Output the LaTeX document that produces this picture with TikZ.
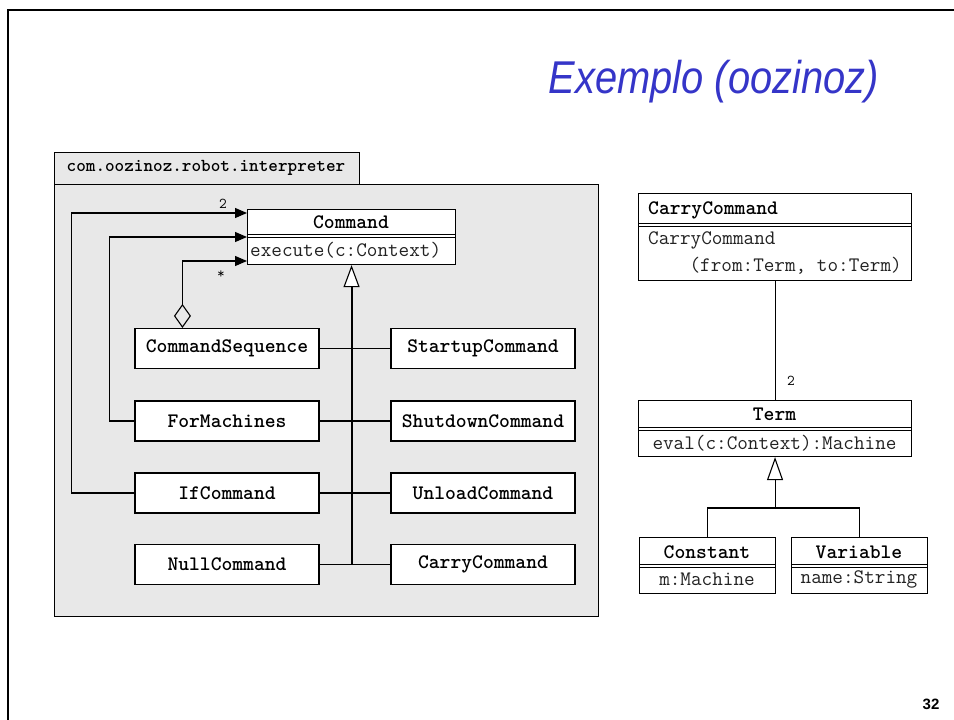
\documentclass[tikz,border=0pt]{standalone}
\usepackage{fontspec}
\usepackage{graphicx}
\setmainfont{Liberation Sans}
\setsansfont{Liberation Sans}
\usetikzlibrary{arrows.meta,calc}
\definecolor{pkgfill}{HTML}{E8E8E8}
\definecolor{titleblue}{HTML}{3535C8}
\definecolor{optext}{HTML}{222222}
\tikzset{
  frameline/.style={line width=2.6pt},
  pkgbox/.style={draw, fill=pkgfill, line width=1.1pt, anchor=north west, inner sep=0pt},
  clsbox/.style={draw, fill=white, line width=1.1pt, anchor=north west, inner sep=0pt},
  sbox/.style={draw, fill=white, line width=1.1pt, minimum width=184pt, minimum height=40pt, inner sep=0pt,
    font=\ttfamily\bfseries\fontsize{20.6}{22}\selectfont},
  clsname/.style={inner sep=0pt, font=\ttfamily\bfseries\fontsize{20.6}{22}\selectfont},
  clsop/.style={inner sep=0pt, text=optext, font=\ttfamily\fontsize{20.6}{22}\selectfont},
  mult/.style={inner sep=0pt, font=\ttfamily\fontsize{15}{16}\selectfont},
  conn/.style={line width=1.1pt},
  assoc/.style={conn, -{Triangle[length=12pt,width=10pt]}},
  aggr/.style={conn, {Diamond[open,length=24pt,width=17pt]}-{Triangle[length=12pt,width=10pt]}},
  gen/.style={line width=2pt, -{Triangle[open,length=22pt,width=16pt,fill=white,line width=1.1pt]}},
  gen2/.style={conn, -{Triangle[open,length=23pt,width=16pt,fill=white,line width=1.1pt]}},
}
\begin{document}
\begin{tikzpicture}[x=1pt,y=-1pt]
\useasboundingbox (0,0) rectangle (954,720);
% slide frame
\draw[frameline] (8,720) -- (8,10) -- (954,10);
% title
\node[anchor=base east, text=titleblue, inner sep=0pt] (title) at (879,93)
  {\resizebox{330pt}{\height}{\fontsize{46}{50}\selectfont\itshape Exemplo (oozinoz)}};
% page number
\node[inner sep=0pt, font=\sffamily\bfseries\fontsize{15}{15}\selectfont] (page) at (931,704) {32};

% package
\node[pkgbox, minimum width=305pt, minimum height=32pt] (tab) at (54,152) {};
\node[inner sep=0pt, font=\ttfamily\bfseries\fontsize{18.3}{20}\selectfont] (tabtext) at (206,168) {com.oozinoz.robot.interpreter};
\node[pkgbox, minimum width=544pt, minimum height=432pt] (pkg) at (54,184) {};

% Command class
\node[clsbox, minimum width=208pt, minimum height=55pt] (cmd) at (247,209) {};
\draw[line width=0.9pt] ($(cmd.north west)+(0,25)$) -- ($(cmd.north east)+(0,25)$);
\draw[line width=0.9pt] ($(cmd.north west)+(0,28)$) -- ($(cmd.north east)+(0,28)$);
\node[clsname] (cmdname) at (351,222) {Command};
\node[clsop, anchor=west] (cmdop) at (250,250) {execute(c:Context)};

% subclasses
\node[sbox] (cs) at (227,348.5) {CommandSequence};
\node[sbox] (fm) at (227,421) {ForMachines};
\node[sbox] (ifc) at (227,493) {IfCommand};
\node[sbox] (nc) at (227,564.5) {NullCommand};
\node[sbox] (su) at (483,348.5) {StartupCommand};
\node[sbox] (sd) at (483,421) {ShutdownCommand};
\node[sbox] (ul) at (483,493) {UnloadCommand};
\node[sbox] (cc) at (483,564.5) {CarryCommand};

% generalization tree
\draw[conn] (cs.east) -- (su.west);
\draw[conn] (fm.east) -- (sd.west);
\draw[conn] (ifc.east) -- (ul.west);
\draw[conn] (nc.east) -- (cc.west);
\draw[gen] (cmd.south |- nc.east) -- (cmd.south);

% associations
\draw[assoc] (ifc.west) -- ($(ifc.west)+(-63,0)$) |- ($(cmd.north west)+(0,4)$);
\draw[assoc] (fm.west) -- ($(fm.west)+(-25,0)$) |- ($(cmd.north west)+(0,28)$);
\draw[aggr] ($(cs.north west)+(48,0)$) |- ($(cmd.north west)+(0,52)$);
\node[mult] (m2) at (223,204) {2};
\node[mult] (mstar) at (221,275) {*};

% right diagram: CarryCommand
\node[clsbox, minimum width=273pt, minimum height=87pt] (cc2) at (638,193) {};
\draw[line width=0.9pt] ($(cc2.north west)+(0,30)$) -- ($(cc2.north east)+(0,30)$);
\draw[line width=0.9pt] ($(cc2.north west)+(0,33)$) -- ($(cc2.north east)+(0,33)$);
\node[clsname, anchor=west] (cc2name) at (648,210) {CarryCommand};
\node[clsop, anchor=west] (cc2op1) at (648,240) {CarryCommand};
\node[clsop, anchor=east] (cc2op2) at (902,266) {(from:Term, to:Term)};

% Term
\node[clsbox, minimum width=273pt, minimum height=56pt] (term) at (638,400) {};
\draw[line width=0.9pt] ($(term.north west)+(0,27)$) -- ($(term.north east)+(0,27)$);
\draw[line width=0.9pt] ($(term.north west)+(0,30)$) -- ($(term.north east)+(0,30)$);
\node[clsname] (termname) at (774.5,414) {Term};
\node[clsop] (termop) at (774.5,443) {eval(c:Context):Machine};

\draw[conn] (cc2.south) -- (term.north);
\node[mult] (m2b) at (791,381) {2};

% Constant / Variable
\node[clsbox, minimum width=136pt, minimum height=56pt] (con) at (639,537) {};
\draw[line width=0.9pt] ($(con.north west)+(0,27)$) -- ($(con.north east)+(0,27)$);
\draw[line width=0.9pt] ($(con.north west)+(0,30)$) -- ($(con.north east)+(0,30)$);
\node[clsname] (conname) at (707,552) {Constant};
\node[clsop] (conop) at (707,579) {m:Machine};

\node[clsbox, minimum width=136pt, minimum height=56pt] (var) at (791,537) {};
\draw[line width=0.9pt] ($(var.north west)+(0,27)$) -- ($(var.north east)+(0,27)$);
\draw[line width=0.9pt] ($(var.north west)+(0,30)$) -- ($(var.north east)+(0,30)$);
\node[clsname] (varname) at (859,552) {Variable};
\node[clsop] (varop) at (859,579) {name:String};

\draw[conn] (con.north) -- ($(con.north)+(0,-29)$) -- ($(var.north)+(0,-29)$) -- (var.north);
\draw[gen2] ($(term.south)+(0,52)$) -- (term.south);
\end{tikzpicture}
\end{document}
